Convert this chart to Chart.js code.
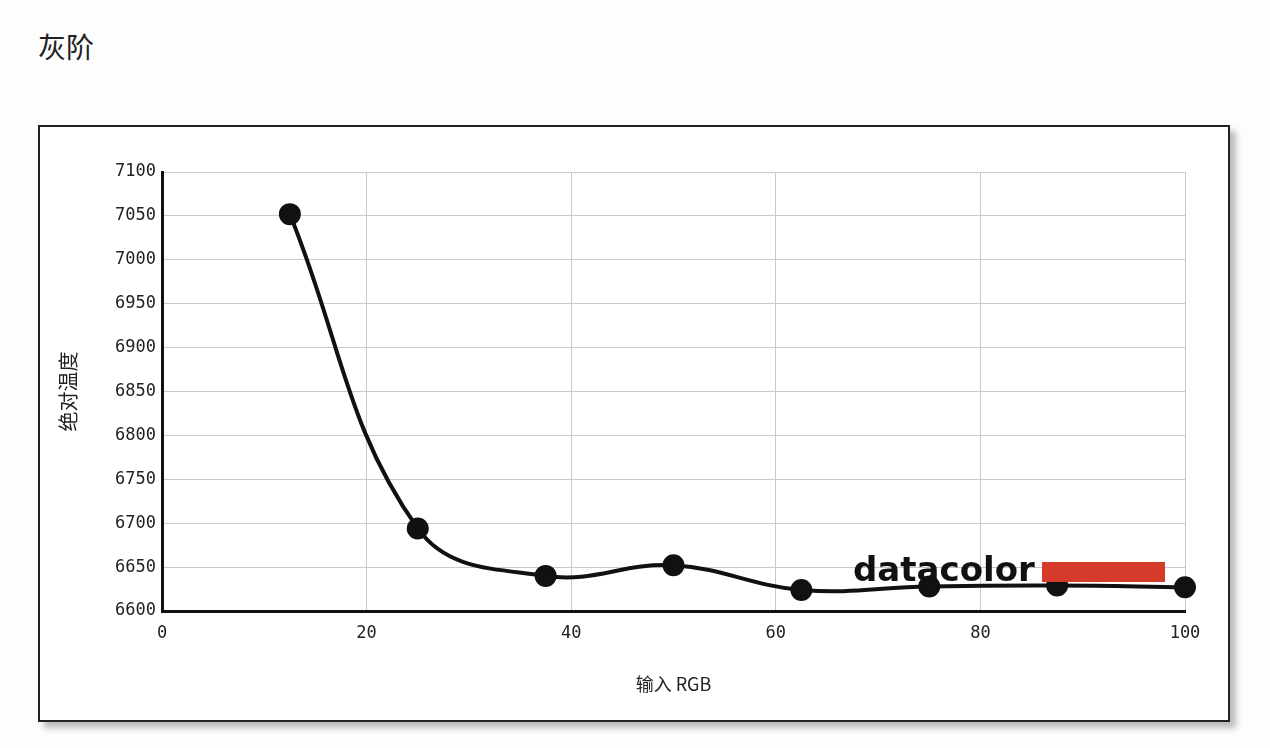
<!DOCTYPE html>
<html>
<head>
<meta charset="utf-8">
<script src="https://cdn.jsdelivr.net/npm/chart.js@4"></script>
<style>
  body { margin: 0; background: #fdfdfd; width: 1270px; height: 748px; overflow: hidden; position: relative; }
  #title { position: absolute; left: 38px; top: 26px; font: 28px "Noto Sans CJK SC", sans-serif; color: #222; }
  #box { position: absolute; left: 38px; top: 125px; width: 1188px; height: 593px; border: 2px solid #222;
         background: #fff; box-shadow: 6px 6px 6px #bbb; }
  canvas { position: absolute; left: 0; top: 0; }
</style>
</head>
<body>
<div id="title">灰阶</div>
<div id="box"><canvas id="c" width="1188" height="593"></canvas></div>
<script>
const inputRGB = [12.5, 25, 37.5, 50, 62.5, 75, 87.5, 100];
const cct = [7052, 6694, 6640, 6652, 6624, 6628, 6629, 6627];
const yTicks = [6600, 6650, 6700, 6750, 6800, 6850, 6900, 6950, 7000, 7050, 7100];
const xTicks = [0, 20, 40, 60, 80, 100];

const tickFont = { family: "'DejaVu Sans Mono', monospace", size: 17 };

const logo = {
  id: 'logo',
  afterDatasetsDraw(chart) {
    const ctx = chart.ctx;
    const y = chart.scales.y;
    ctx.save();
    ctx.fillStyle = '#111';
    ctx.font = "bold 34px 'DejaVu Sans', sans-serif";
    ctx.fillText('datacolor', 813, y.getPixelForValue(6634));
    ctx.fillStyle = '#d63a2a';
    ctx.fillRect(1040 - 38, 560 - 125, 123, 20);
    ctx.restore();
  }
};

new Chart(document.getElementById('c'), {
  type: 'line',
  data: {
    datasets: [{
      data: inputRGB.map((v, i) => ({ x: v, y: cct[i] })),
      borderColor: '#111',
      backgroundColor: '#111',
      borderWidth: 4,
      tension: 0.4,
      pointRadius: 9,
      pointHoverRadius: 9,
      clip: false
    }]
  },
  options: {
    responsive: false,
    animation: false,
    layout: { padding: { top: 45, right: 43, left: 12, bottom: 21 } },
    plugins: { legend: { display: false }, tooltip: { enabled: false } },
    scales: {
      x: {
        type: 'linear', min: 0, max: 100,
        afterBuildTicks: s => { s.ticks = xTicks.map(v => ({ value: v })); },
        grid: { color: '#c8c8d4', lineWidth: 1, tickLength: 0 },
        border: { color: '#111', width: 3 },
        ticks: { color: '#222', font: tickFont, padding: 12 },
        title: { display: true, text: '输入 RGB', color: '#222', padding: { top: 18 },
                 font: { family: "'Noto Sans CJK SC', 'DejaVu Sans Mono'", size: 18 } }
      },
      y: {
        min: 6600, max: 7100,
        afterBuildTicks: s => { s.ticks = yTicks.map(v => ({ value: v })); },
        afterFit: s => { s.width = 110; },
        grid: { color: '#c8c8d4', lineWidth: 1, tickLength: 0 },
        border: { color: '#111', width: 3 },
        ticks: { color: '#222', font: tickFont, padding: 6, callback: v => String(v) },
        title: { display: true, text: '绝对温度', color: '#222', padding: { bottom: 2 },
                 font: { family: "'Noto Sans CJK SC'", size: 20 } }
      }
    }
  },
  plugins: [logo]
});
</script>
</body>
</html>
